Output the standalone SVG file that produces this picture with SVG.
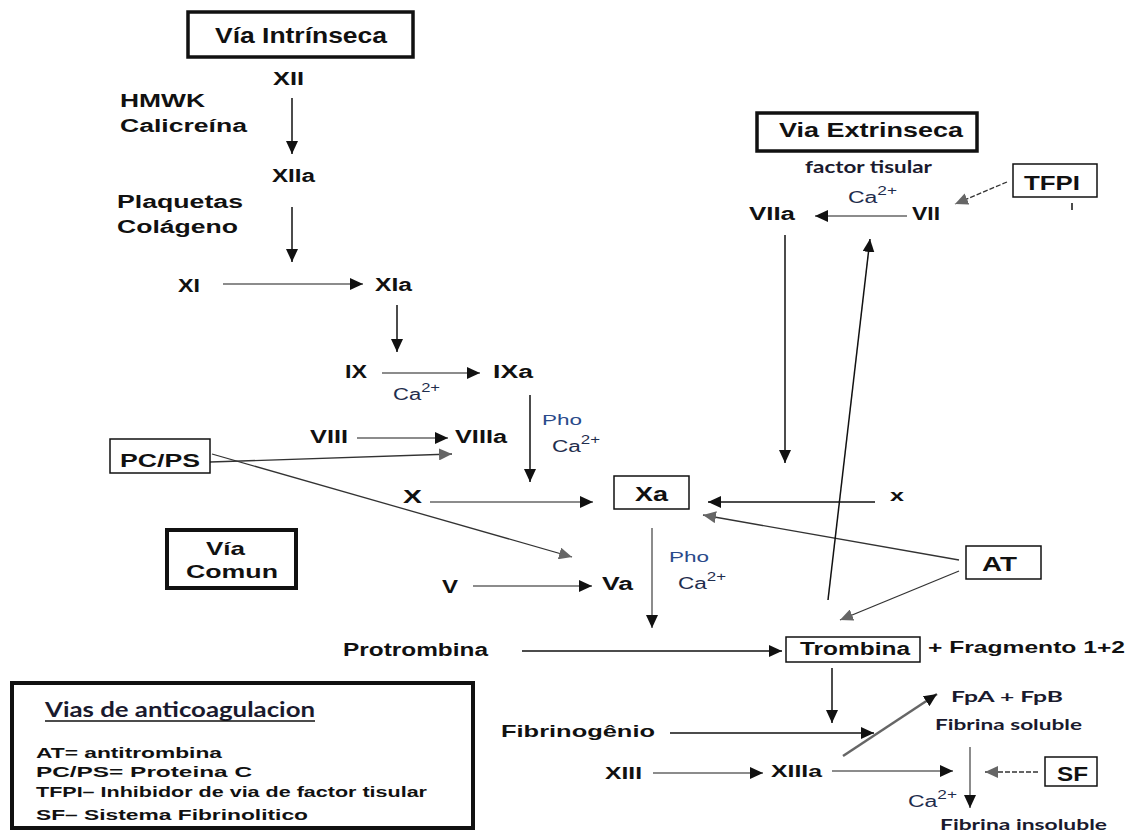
<svg xmlns="http://www.w3.org/2000/svg" width="1133" height="832" viewBox="0 0 1133 832">
<style>
  text { font-family: "Liberation Sans", Arial, sans-serif; font-weight: bold; fill: #111; }
  .t18 { font-size: 18px; }
  .t17 { font-size: 17px; }
  .t20 { font-size: 20px; }
  .cal { font-family: Lato, "Liberation Sans", sans-serif; font-weight: bold; fill: #1a1a2e; }
  .ca { font-family: "Liberation Sans", Arial, sans-serif; font-weight: normal; font-size: 16px; fill: #1f2d4d; }
  .pho { font-family: "Liberation Sans", Arial, sans-serif; font-weight: normal; font-size: 15px; fill: #2a4a8a; }
  .leg { font-size: 15px; }
  .box { fill: #fff; stroke: #111; stroke-width: 1.5; }
  .bbox { fill: #fff; stroke: #111; stroke-width: 3.5; }
  .ln { fill: none; stroke: #111; stroke-width: 1.5; }
  .lg { fill: none; stroke: #666; stroke-width: 1.5; }
  .ld { fill: none; stroke: #333; stroke-width: 1.3; }
  .dash { fill: none; stroke: #333; stroke-width: 1.3; stroke-dasharray: 5 2; }
</style>
<defs>
  <marker id="ab" markerUnits="userSpaceOnUse" markerWidth="14" markerHeight="12" refX="13" refY="6" orient="auto">
    <path d="M0,0 L13,6 L0,12 z" fill="#111"/>
  </marker>
  <marker id="ag" markerUnits="userSpaceOnUse" markerWidth="14" markerHeight="12" refX="13" refY="6" orient="auto">
    <path d="M0,0 L13,6 L0,12 z" fill="#666"/>
  </marker>
</defs>

<g id="connectors">
  <line class="ln" x1="292" y1="98" x2="292" y2="154" marker-end="url(#ab)"/>
  <line class="ln" x1="292" y1="207" x2="292" y2="262" marker-end="url(#ab)"/>
  <line class="lg" x1="223" y1="284" x2="363" y2="284" marker-end="url(#ab)"/>
  <line class="ln" x1="397" y1="305" x2="397" y2="352" marker-end="url(#ab)"/>
  <line class="lg" x1="382" y1="373" x2="480" y2="373" marker-end="url(#ab)"/>
  <line class="ln" x1="530" y1="395" x2="530" y2="482" marker-end="url(#ab)"/>
  <line class="lg" x1="357" y1="438" x2="448" y2="438" marker-end="url(#ab)"/>
  <line class="ld" x1="210" y1="462" x2="452" y2="454" marker-end="url(#ag)"/>
  <line class="ld" x1="212" y1="454" x2="572" y2="557" marker-end="url(#ag)"/>
  <line class="lg" x1="430" y1="502" x2="593" y2="502" marker-end="url(#ab)"/>
  <line class="ln" x1="875" y1="502" x2="708" y2="502" marker-end="url(#ab)"/>
  <line class="ld" x1="959" y1="560" x2="703" y2="515" marker-end="url(#ag)"/>
  <line class="ld" x1="959" y1="571" x2="840" y2="620" marker-end="url(#ag)"/>
  <line class="ln" x1="785" y1="235" x2="785" y2="463" marker-end="url(#ab)"/>
  <line class="ln" x1="828" y1="600" x2="870" y2="239" marker-end="url(#ab)"/>
  <line class="lg" x1="907" y1="216" x2="815" y2="216" marker-end="url(#ab)"/>
  <line class="dash" x1="1007" y1="182" x2="955" y2="204" marker-end="url(#ag)"/>
  <line class="ln" x1="1072" y1="203" x2="1072" y2="210"/>
  <line class="lg" x1="473" y1="586" x2="592" y2="586" marker-end="url(#ab)"/>
  <line class="lg" x1="652" y1="528" x2="652" y2="628" marker-end="url(#ab)"/>
  <line class="ln" x1="522" y1="651" x2="782" y2="651" marker-end="url(#ab)"/>
  <line class="ln" x1="832" y1="668" x2="832" y2="723" marker-end="url(#ab)"/>
  <line class="ln" x1="670" y1="733" x2="874" y2="733" marker-end="url(#ab)"/>
  <line class="lg" x1="653" y1="773" x2="763" y2="773" marker-end="url(#ab)"/>
  <line class="lg" x1="832" y1="771" x2="953" y2="771" marker-end="url(#ab)"/>
  <line x1="843" y1="756" x2="937" y2="694" stroke="#666" stroke-width="2.5" marker-end="url(#ab)"/>
  <line class="lg" x1="970" y1="747" x2="970" y2="808" stroke-width="1.2" marker-end="url(#ab)"/>
  <line class="dash" x1="1038" y1="772" x2="985" y2="772" stroke="#888" marker-end="url(#ag)"/>
</g>

<g id="via-intrinseca">
  <rect class="bbox" x="188" y="12" width="225" height="45"/>
  <text x="215" y="43" font-size="22" textLength="172" lengthAdjust="spacingAndGlyphs">Vía Intrínseca</text>
</g>
<g id="XII"><text class="t18" x="273" y="85" textLength="31" lengthAdjust="spacingAndGlyphs">XII</text></g>
<g id="hmwk">
  <text class="t18" x="120" y="107" textLength="85" lengthAdjust="spacingAndGlyphs">HMWK</text>
  <text class="t18" x="120" y="132" textLength="127" lengthAdjust="spacingAndGlyphs">Calicreína</text>
</g>
<g id="XIIa"><text class="t18" x="272" y="182" textLength="43" lengthAdjust="spacingAndGlyphs">XIIa</text></g>
<g id="plaquetas">
  <text class="t18" x="117" y="208" textLength="126" lengthAdjust="spacingAndGlyphs">Plaquetas</text>
  <text class="t18" x="117" y="233" textLength="121" lengthAdjust="spacingAndGlyphs">Colágeno</text>
</g>
<g id="XI"><text class="t18" x="178" y="292" textLength="22" lengthAdjust="spacingAndGlyphs">XI</text></g>
<g id="XIa"><text class="t18" x="375" y="291" textLength="37" lengthAdjust="spacingAndGlyphs">XIa</text></g>
<g id="IX"><text class="t18" x="345" y="378" textLength="22" lengthAdjust="spacingAndGlyphs">IX</text></g>
<g id="ca1"><text class="ca" x="393" y="400" textLength="47" lengthAdjust="spacingAndGlyphs">Ca<tspan dy="-8" font-size="12">2+</tspan></text></g>
<g id="IXa"><text class="t18" x="493" y="378" textLength="40" lengthAdjust="spacingAndGlyphs">IXa</text></g>
<g id="pho1">
  <text class="pho" x="542" y="425" textLength="40" lengthAdjust="spacingAndGlyphs">Pho</text>
  <text class="ca" x="552" y="452" textLength="48" lengthAdjust="spacingAndGlyphs">Ca<tspan dy="-8" font-size="12">2+</tspan></text>
</g>
<g id="VIII"><text class="t18" x="310" y="443" textLength="38" lengthAdjust="spacingAndGlyphs">VIII</text></g>
<g id="VIIIa"><text class="t18" x="455" y="443" textLength="52" lengthAdjust="spacingAndGlyphs">VIIIa</text></g>
<g id="PCPS">
  <rect class="box" x="110" y="439" width="100" height="34"/>
  <text class="t18" x="120" y="467" textLength="80" lengthAdjust="spacingAndGlyphs">PC/PS</text>
</g>
<g id="X"><text class="t18" x="403" y="503" textLength="19" lengthAdjust="spacingAndGlyphs">X</text></g>
<g id="Xa">
  <rect class="box" x="614" y="476" width="75" height="33"/>
  <text class="t20" x="635" y="501" textLength="33" lengthAdjust="spacingAndGlyphs">Xa</text>
</g>
<g id="x-small"><text class="t17" x="890" y="501" textLength="14" lengthAdjust="spacingAndGlyphs">x</text></g>
<g id="AT">
  <rect class="box" x="966" y="546" width="75" height="33"/>
  <text class="t20" x="982" y="571" textLength="35" lengthAdjust="spacingAndGlyphs">AT</text>
</g>
<g id="via-comun">
  <rect x="167" y="530" width="129" height="58" fill="#fff" stroke="#111" stroke-width="4"/>
  <text x="206" y="555" font-size="19" textLength="39" lengthAdjust="spacingAndGlyphs">Vía</text>
  <text x="186" y="578" font-size="19" textLength="92" lengthAdjust="spacingAndGlyphs">Comun</text>
</g>
<g id="V"><text class="t18" x="442" y="593" textLength="16" lengthAdjust="spacingAndGlyphs">V</text></g>
<g id="Va"><text class="t18" x="602" y="590" textLength="31" lengthAdjust="spacingAndGlyphs">Va</text></g>
<g id="pho2">
  <text class="pho" x="669" y="562" textLength="40" lengthAdjust="spacingAndGlyphs">Pho</text>
  <text class="ca" x="678" y="589" textLength="48" lengthAdjust="spacingAndGlyphs">Ca<tspan dy="-8" font-size="12">2+</tspan></text>
</g>
<g id="via-extrinseca">
  <rect class="bbox" x="757" y="113" width="220" height="38"/>
  <text class="t20" x="779" y="137" textLength="184" lengthAdjust="spacingAndGlyphs">Via Extrinseca</text>
  <text class="cal" x="805" y="173" font-size="17" textLength="127" lengthAdjust="spacingAndGlyphs">factor tisular</text>
</g>
<g id="ca3"><text class="ca" x="848" y="203" textLength="49" lengthAdjust="spacingAndGlyphs">Ca<tspan dy="-8" font-size="12">2+</tspan></text></g>
<g id="VIIa"><text class="t18" x="749" y="220" textLength="46" lengthAdjust="spacingAndGlyphs">VIIa</text></g>
<g id="VII"><text class="t18" x="912" y="220" textLength="28" lengthAdjust="spacingAndGlyphs">VII</text></g>
<g id="TFPI">
  <rect class="box" x="1013" y="164" width="84" height="33"/>
  <text x="1024" y="190" font-size="21" textLength="56" lengthAdjust="spacingAndGlyphs">TFPI</text>
</g>
<g id="protrombina"><text class="t18" x="343" y="656" textLength="145" lengthAdjust="spacingAndGlyphs">Protrombina</text></g>
<g id="trombina">
  <rect class="box" x="786" y="637" width="134" height="25"/>
  <text class="t18" x="800" y="655" textLength="110" lengthAdjust="spacingAndGlyphs">Trombina</text>
  <text class="t17" x="928" y="653" textLength="197" lengthAdjust="spacingAndGlyphs">+ Fragmento 1+2</text>
</g>
<g id="fibrinogenio"><text class="t17" x="501" y="737" textLength="154" lengthAdjust="spacingAndGlyphs">Fibrinogênio</text></g>
<g id="XIII"><text class="t17" x="605" y="779" textLength="37" lengthAdjust="spacingAndGlyphs">XIII</text></g>
<g id="XIIIa"><text class="t17" x="771" y="777" textLength="51" lengthAdjust="spacingAndGlyphs">XIIIa</text></g>
<g id="fibrina-soluble">
  <text class="cal" x="951" y="702" font-size="15" textLength="112" lengthAdjust="spacingAndGlyphs">FpA + FpB</text>
  <text class="cal" x="935" y="730" font-size="16" textLength="147" lengthAdjust="spacingAndGlyphs">Fibrina soluble</text>
</g>
<g id="ca5"><text class="ca" x="908" y="807" textLength="49" lengthAdjust="spacingAndGlyphs">Ca<tspan dy="-8" font-size="12">2+</tspan></text></g>
<g id="fibrina-insoluble"><text class="cal" x="940" y="830" font-size="16" textLength="167" lengthAdjust="spacingAndGlyphs">Fibrina insoluble</text></g>
<g id="SF">
  <rect class="box" x="1045" y="757" width="52" height="29"/>
  <text class="t20" x="1057" y="781" textLength="31" lengthAdjust="spacingAndGlyphs">SF</text>
</g>
<g id="legend">
  <rect x="12" y="683" width="461" height="145" fill="#fff" stroke="#111" stroke-width="4"/>
  <text class="cal" x="45" y="717" font-size="21" textLength="270" lengthAdjust="spacingAndGlyphs">Vias de anticoagulacion</text>
  <line x1="45" y1="721" x2="315" y2="721" stroke="#111" stroke-width="1.5"/>
  <text class="leg" x="36" y="758" textLength="186" lengthAdjust="spacingAndGlyphs">AT= antitrombina</text>
  <text class="leg" x="36" y="777" textLength="216" lengthAdjust="spacingAndGlyphs">PC/PS= Proteina C</text>
  <text class="leg" x="36" y="797" textLength="391" lengthAdjust="spacingAndGlyphs">TFPI– Inhibidor de via de factor tisular</text>
  <text class="leg" x="36" y="820" textLength="272" lengthAdjust="spacingAndGlyphs">SF– Sistema Fibrinolitico</text>
</g>
</svg>
